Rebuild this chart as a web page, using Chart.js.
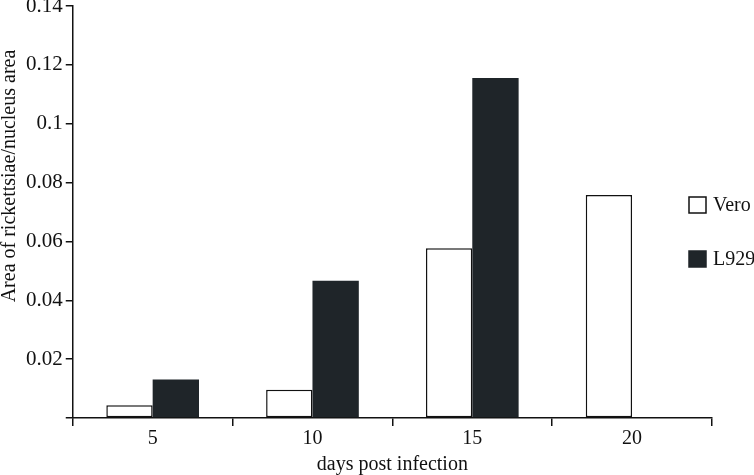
<!DOCTYPE html>
<html>
<head>
<meta charset="utf-8">
<script src="https://cdn.jsdelivr.net/npm/chart.js@4/dist/chart.umd.min.js"></script>
<style>
  html, body { margin: 0; padding: 0; background: #ffffff; }
  #wrap { width: 754px; height: 475px; position: relative; }
</style>
</head>
<body>
<div id="wrap"><canvas id="c" width="754" height="475"></canvas></div>
<script>
const categories = ['5', '10', '15', '20'];
const veroValues = [0.0043, 0.0096, 0.0577, 0.0758];
const l929Values = [0.0131, 0.0466, 0.1155, null];
const seriesNames = ['Vero', 'L929'];
const yTicks = [0, 0.02, 0.04, 0.06, 0.08, 0.1, 0.12, 0.14];
const yTitle = 'Area of rickettsiae/nucleus area';
const xTitle = 'days post infection';

const FONT = "'Liberation Serif', 'Times New Roman', serif";
const DARK = '#1f2529';

const sidePlugin = {
  id: 'sideLegend',
  afterDraw(chart) {
    const ctx = chart.ctx;
    const a = chart.chartArea;
    ctx.save();
    // legend
    const x = a.right - 23;
    const rows = [a.top + 191, a.top + 245];
    chart.data.datasets.forEach((ds, i) => {
      const y = rows[i];
      ctx.fillStyle = ds.backgroundColor;
      ctx.fillRect(x, y, 17, 16);
      ctx.lineWidth = 1.5;
      ctx.strokeStyle = ds.borderColor;
      ctx.strokeRect(x, y, 17, 16);
      ctx.fillStyle = '#111';
      ctx.font = "20px " + FONT;
      ctx.textBaseline = 'middle';
      ctx.textAlign = 'left';
      ctx.fillText(ds.label, x + 24, y + 9);
    });
    // y axis title
    ctx.translate(10, a.top + 170);
    ctx.rotate(-Math.PI / 2);
    ctx.fillStyle = '#111';
    ctx.font = "20px " + FONT;
    ctx.textAlign = 'center';
    ctx.textBaseline = 'middle';
    ctx.fillText(yTitle, 0, 0);
    ctx.restore();
  }
};

new Chart(document.getElementById('c'), {
  type: 'bar',
  data: {
    labels: categories,
    datasets: [
      {
        label: seriesNames[0],
        data: veroValues,
        backgroundColor: '#ffffff',
        borderColor: '#111111',
        borderWidth: 1.5,
        borderSkipped: false,
        categoryPercentage: 0.58,
        barPercentage: 1.0
      },
      {
        label: seriesNames[1],
        data: l929Values,
        backgroundColor: DARK,
        borderColor: DARK,
        borderWidth: 0,
        categoryPercentage: 0.58,
        barPercentage: 1.0
      }
    ]
  },
  options: {
    responsive: false,
    animation: false,
    layout: { padding: { left: 23, right: 42, top: 6, bottom: 0 } },
    plugins: {
      legend: { display: false },
      tooltip: { enabled: false }
    },
    scales: {
      x: {
        grid: {
          display: true,
          offset: true,
          drawOnChartArea: false,
          drawTicks: true,
          tickLength: 8,
          color: '#111',
          lineWidth: 1.5
        },
        border: { display: true, color: '#111', width: 1.5 },
        ticks: {
          color: '#111',
          font: { family: FONT, size: 20 },
          padding: 1
        },
        title: {
          display: true,
          text: xTitle,
          color: '#111',
          font: { family: FONT, size: 20, lineHeight: 1.0 },
          padding: { top: 3, bottom: 0 }
        }
      },
      y: {
        min: 0,
        max: 0.14,
        afterBuildTicks(scale) {
          scale.ticks = yTicks.map(v => ({ value: v }));
        },
        afterFit(scale) {
          scale.paddingTop = 0;
          scale.paddingBottom = 0;
        },
        grid: {
          display: true,
          drawOnChartArea: false,
          drawTicks: true,
          tickLength: 7,
          color: '#111',
          lineWidth: 1.5
        },
        border: { display: true, color: '#111', width: 1.5 },
        ticks: {
          color: '#111',
          font: { family: FONT, size: 21 },
          padding: 3,
          callback(v) { return v === 0 ? '' : String(+Number(v).toFixed(2)); }
        },
        title: { display: false }
      }
    }
  },
  plugins: [sidePlugin]
});
</script>
</body>
</html>
